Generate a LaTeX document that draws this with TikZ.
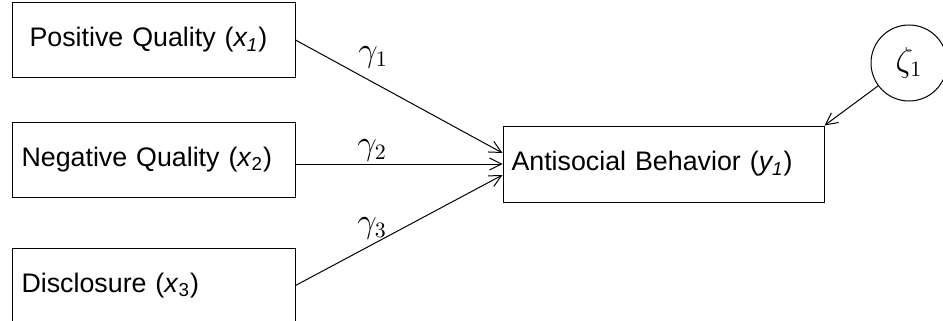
\documentclass[tikz,border=0pt]{standalone}
\usepackage{fontspec}
\setmainfont{Liberation Sans}
\usetikzlibrary{arrows.meta}
\begin{document}
\begin{tikzpicture}[x=0.5pt, y=-0.5pt, >={Straight Barb[length=6pt,width=6pt]},
	var/.style={draw, line width=0.5pt, minimum width=141.5pt, minimum height=37.5pt, text width=132pt, align=left, font=\fontsize{13.4}{16}\selectfont},
	err/.style={draw, circle, line width=0.5pt, minimum size=38pt, inner sep=0pt, font=\fontsize{16}{18}\selectfont},
	lbl/.style={inner sep=1pt, font=\fontsize{16}{18}\selectfont},
	path/.style={->, line width=0.5pt}]
			\useasboundingbox (0,0) rectangle (943,321);
			\clip (0,0) rectangle (943,321);
			% observed variables
			\node[var] (x1) at (153.5,40) {\hspace*{4pt}Positive Quality (\textit{x\textsubscript{1}})};
			\node[var] (x2) at (153.5,159.5) {Negative Quality (\textit{x}\textsubscript{2})};
			\node[var] (x3) at (153.5,285.5) {Disclosure (\textit{x}\textsubscript{3})};
			\node[var, minimum width=160.5pt, text width=152pt, minimum height=38pt] (y1) at (663.5,164) {Antisocial Behavior (\textit{y\textsubscript{1}})};
			\node[err] (z1) at (909,63) {$\zeta_1$};
			% paths
			\draw[path] (x1.east) -- node[lbl, pos=0.375, yshift=12.5pt] (g1) {$\gamma_1$} ([yshift=5.5pt]y1.west);
			\draw[path] (x2.east |- y1.west) -- node[lbl, pos=0.37, yshift=7pt] (g2) {$\gamma_2$} (y1.west);
			\draw[path] (x3.east) -- node[lbl, pos=0.37, yshift=8pt] (g3) {$\gamma_3$} ([yshift=-5.5pt]y1.west);
			\draw[path] (z1) -- (y1.north east);
		\end{tikzpicture}
\end{document}
